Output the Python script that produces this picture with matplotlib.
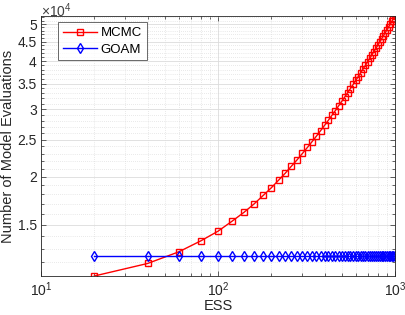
import numpy as np
import matplotlib
matplotlib.use("Agg")
import matplotlib.pyplot as plt
from matplotlib.ticker import FixedLocator, FuncFormatter, LogLocator, NullFormatter

plt.rcParams['font.family'] = ['Liberation Sans', 'DejaVu Sans']
plt.rcParams['mathtext.fontset'] = 'custom'
plt.rcParams['mathtext.rm'] = 'Liberation Sans'
plt.rcParams['mathtext.it'] = 'Liberation Sans:italic'
plt.rcParams['mathtext.bf'] = 'Liberation Sans:bold'

# ---- data ----
ess = list(range(20, 1001, 20))
mcmc = [11040, 11900, 12760, 13630, 14440, 15330, 16160, 17010, 17890, 18730,
        19610, 20450, 21330, 22160, 23020, 23860, 24700, 25540, 26390, 27230,
        28070, 28910, 29750, 30600, 31440, 32280, 33120, 33960, 34800, 35650,
        36490, 37330, 38170, 39010, 39860, 40700, 41540, 42380, 43220, 44060,
        44910, 45750, 46590, 47430, 48270, 49120, 49960, 50800, 51640, 52460]
goam = [12430] * len(ess)
series_names = ["MCMC", "GOAM"]
y_ticks = [15000, 20000, 25000, 30000, 35000, 40000, 45000, 50000]
x_label = "ESS"
y_label = "Number of Model Evaluations"

fig = plt.figure(figsize=(4.05, 3.15), dpi=100)
ax = fig.add_axes([41/405, 1 - 276/315, (395-41)/405, (276-16)/315])

ax.plot(ess, mcmc, color='#ff0000', lw=1.0, marker='s', markersize=4.2,
        markerfacecolor='none', markeredgewidth=1.0, label=series_names[0])
ax.plot(ess, goam, color='#0000ff', lw=1.0, marker='d', markersize=5.5,
        markerfacecolor='none', markeredgewidth=1.0, label=series_names[1])

ax.set_xscale('log')
ax.set_yscale('log')
ax.set_xlim(10, 1000)
ax.set_ylim(min(mcmc), max(mcmc))

ax.yaxis.set_major_locator(FixedLocator(y_ticks))
ax.yaxis.set_major_formatter(FuncFormatter(lambda v, p: ('%g' % (v / 1e4))))
ax.yaxis.set_minor_locator(FixedLocator(list(range(11000, 53000, 1000))))
ax.yaxis.set_minor_formatter(NullFormatter())

ax.xaxis.set_major_locator(LogLocator(base=10, numticks=10))
ax.xaxis.set_minor_locator(LogLocator(base=10, subs=np.arange(2, 10), numticks=10))
ax.xaxis.set_minor_formatter(NullFormatter())

axcol = '#262626'
for s in ax.spines.values():
    s.set_color(axcol)
    s.set_linewidth(0.6)
ax.tick_params(which='both', direction='in', top=True, right=True, colors=axcol,
               labelsize=10, width=0.5)
ax.tick_params(which='major', length=3.5)
ax.tick_params(which='minor', length=2)
ax.tick_params(axis='x', pad=3)
ax.tick_params(axis='y', pad=3)

ax.grid(which='major', color='#dcdcdc', lw=0.6, ls='-')
ax.grid(which='minor', color='#d4d4d4', lw=0.5, ls=(0, (1, 2)))
ax.set_axisbelow(True)

ax.set_xlabel(x_label, fontsize=10.5, color=axcol, labelpad=0)
ax.set_ylabel(y_label, fontsize=10.5, color=axcol, labelpad=2)
fig.text(41/405, 1 - 1/315, r'$\times10^{4}$', fontsize=10,
         color='#404040', ha='left', va='top')

leg = ax.legend(loc='upper left', bbox_to_anchor=(0.048, 0.975), fontsize=9.5,
                frameon=True, fancybox=False, edgecolor=axcol, borderpad=0.35,
                labelspacing=0.3, handlelength=2.6, handletextpad=0.3,
                borderaxespad=0)
leg.get_frame().set_linewidth(0.6)

fig.savefig('out.png', dpi=100, facecolor='white')
